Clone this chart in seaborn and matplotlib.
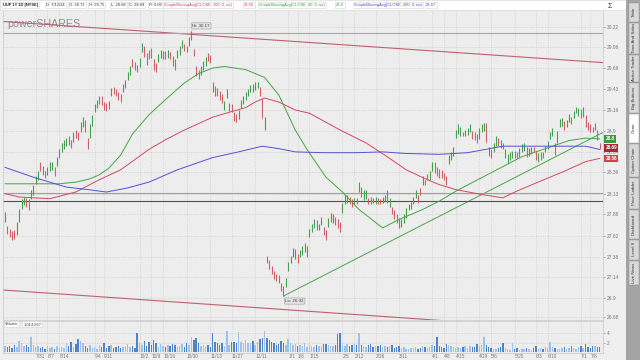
import numpy as np
import pandas as pd
import matplotlib
matplotlib.use("Agg")
import matplotlib.pyplot as plt
from matplotlib.patches import Rectangle
from matplotlib.ticker import NullLocator, NullFormatter
import matplotlib.transforms as mtrans
import seaborn as sns

# ---- values: UUP daily bars 7/12/23 - 7/12/24 ----
holidays = ["2023-09-04", "2023-11-23", "2023-12-25", "2024-01-01", "2024-01-15",
            "2024-02-19", "2024-03-29", "2024-05-27", "2024-06-19", "2024-07-04"]

highs = [
    27.91, 27.74, 27.71, 27.68, 27.70, 27.79, 27.94, 28.06, 28.09, 28.08,
    28.06, 28.18, 28.24, 28.35, 28.40, 28.51, 28.47, 28.41, 28.46, 28.51,
    28.52, 28.46, 28.58, 28.67, 28.75, 28.79, 28.81, 28.83, 28.79, 28.88,
    28.91, 28.89, 29.01, 29.07, 29.04, 28.81, 28.98, 29.10, 29.24, 29.29,
    29.34, 29.33, 29.26, 29.25, 29.27, 29.44, 29.45, 29.43, 29.39, 29.36,
    29.49, 29.54, 29.64, 29.72, 29.80, 29.77, 29.73, 29.82, 30.01, 29.97,
    29.88, 29.92, 29.95, 29.80, 29.76, 29.87, 29.92, 29.91, 29.91, 29.92,
    29.90, 29.85, 29.80, 29.92, 29.97, 30.05, 30.00, 29.97, 30.09, 30.17,
    29.94, 29.72, 29.67, 29.72, 29.78, 29.83, 29.88, 29.86, 29.51, 29.46,
    29.44, 29.40, 29.36, 29.27, 29.43, 29.25, 29.24, 29.14, 29.11, 29.16,
    29.29, 29.34, 29.39, 29.43, 29.48, 29.49, 29.51, 29.51, 29.45, 29.30,
    29.07, 27.39, 27.34, 27.27, 27.21, 27.18, 27.16, 27.07, 27.04, 27.13,
    27.32, 27.39, 27.48, 27.47, 27.41, 27.46, 27.51, 27.54, 27.51, 27.71,
    27.77, 27.82, 27.81, 27.77, 27.85, 27.73, 27.70, 27.84, 27.90, 27.89,
    27.85, 27.83, 27.79, 28.02, 28.11, 28.12, 28.09, 28.06, 28.08, 28.08,
    28.27, 28.21, 28.17, 28.18, 28.08, 28.09, 28.08, 28.09, 28.08, 28.06,
    28.09, 28.12, 28.18, 28.08, 27.97, 27.93, 27.89, 27.84, 27.83, 27.88,
    27.96, 28.01, 28.03, 28.09, 28.18, 28.12, 28.20, 28.34, 28.30, 28.37,
    28.40, 28.52, 28.51, 28.46, 28.43, 28.42, 28.38, 28.35, 28.60, 28.64,
    28.70, 28.91, 28.98, 28.95, 28.89, 28.91, 28.94, 28.98, 28.90, 28.88,
    28.86, 28.93, 28.98, 29.00, 29.00, 28.70, 28.68, 28.75, 28.83, 28.81,
    28.79, 28.75, 28.67, 28.62, 28.64, 28.65, 28.65, 28.64, 28.69, 28.74,
    28.75, 28.70, 28.69, 28.70, 28.70, 28.65, 28.63, 28.64, 28.64, 28.71,
    28.78, 28.89, 28.94, 28.75, 28.90, 29.05, 29.06, 29.02, 29.04, 29.11,
    29.07, 29.15, 29.20, 29.19, 29.17, 29.20, 29.10, 29.01, 28.99, 28.95,
    29.00, 28.91, 28.75,
]
lows = [
    27.79, 27.65, 27.61, 27.58, 27.59, 27.63, 27.79, 27.94, 27.99, 27.97,
    27.93, 28.07, 28.12, 28.25, 28.30, 28.40, 28.36, 28.32, 28.36, 28.40,
    28.42, 28.34, 28.47, 28.57, 28.64, 28.68, 28.71, 28.73, 28.69, 28.76,
    28.81, 28.79, 28.89, 28.95, 28.89, 28.67, 28.81, 28.96, 29.14, 29.19,
    29.24, 29.22, 29.16, 29.15, 29.17, 29.33, 29.36, 29.34, 29.28, 29.26,
    29.39, 29.44, 29.54, 29.60, 29.70, 29.67, 29.64, 29.71, 29.90, 29.83,
    29.73, 29.80, 29.82, 29.67, 29.64, 29.77, 29.82, 29.80, 29.81, 29.82,
    29.80, 29.72, 29.67, 29.82, 29.86, 29.95, 29.91, 29.89, 29.97, 30.05,
    29.84, 29.59, 29.55, 29.60, 29.67, 29.72, 29.78, 29.76, 29.39, 29.34,
    29.33, 29.29, 29.25, 29.16, 29.31, 29.15, 29.14, 29.02, 29.01, 29.05,
    29.19, 29.23, 29.29, 29.33, 29.38, 29.39, 29.41, 29.44, 29.34, 29.06,
    28.91, 27.31, 27.24, 27.18, 27.12, 27.10, 27.07, 26.98, 26.92, 27.03,
    27.21, 27.30, 27.38, 27.35, 27.30, 27.37, 27.40, 27.44, 27.38, 27.61,
    27.67, 27.72, 27.70, 27.70, 27.75, 27.63, 27.58, 27.73, 27.79, 27.78,
    27.75, 27.72, 27.67, 27.90, 28.01, 28.02, 28.00, 27.97, 28.01, 28.00,
    28.15, 28.09, 28.05, 28.07, 28.00, 28.01, 28.02, 28.01, 28.00, 28.00,
    28.02, 28.04, 28.02, 27.97, 27.88, 27.82, 27.78, 27.72, 27.73, 27.78,
    27.84, 27.93, 27.94, 28.00, 28.08, 28.02, 28.11, 28.24, 28.23, 28.29,
    28.30, 28.40, 28.38, 28.35, 28.32, 28.32, 28.29, 28.24, 28.49, 28.54,
    28.59, 28.81, 28.86, 28.83, 28.83, 28.83, 28.85, 28.88, 28.80, 28.79,
    28.75, 28.80, 28.88, 28.90, 28.76, 28.59, 28.57, 28.64, 28.71, 28.71,
    28.69, 28.67, 28.57, 28.50, 28.54, 28.56, 28.57, 28.56, 28.58, 28.64,
    28.65, 28.58, 28.59, 28.62, 28.64, 28.54, 28.52, 28.54, 28.57, 28.64,
    28.68, 28.80, 28.84, 28.60, 28.75, 28.95, 28.96, 28.91, 28.95, 29.01,
    28.98, 29.06, 29.12, 29.09, 29.06, 29.07, 28.95, 28.91, 28.89, 28.88,
    28.91, 28.79, 28.68,
]
# g = up bar, r = down bar
bar_dir = ("grrrrggggr" "rggggrrrgg" "grgggggrrg" "rrggrrgggg" "grrrrgrrrr"
           "ggggrrrggr" "rrrrrgggrg" "rrrgggrrgg" "rrrgggrrrr" "rrrgggrrrg"
           "gggggrggrr" "grrrrrrrrg" "ggggrggggg" "ggrggrrggg" "rrrgggrrgr"
           "grggrrrgrr" "ggrgrrrrgg" "gggggrrgrg" "ggrrrrrrgg" "ggggrgggrr"
           "rgggrrrggr" "rrggggrrgg" "grggrrggrg" "gggrgggrgg" "rgggrgrrrr"
           "grr")
volume_m = [
    1.2, 1.0, 1.3, 0.9, 1.4, 1.1, 2.4, 2.0, 1.2, 1.5,
    1.1, 3.2, 1.4, 1.0, 1.2, 0.8, 1.1, 0.7, 1.3, 0.9,
    1.0, 0.6, 1.2, 0.9, 1.1, 0.8, 2.0, 1.3, 2.2, 1.0,
    1.6, 2.8, 2.4, 1.9, 1.2, 0.9, 1.4, 0.8, 1.1, 0.7,
    1.5, 1.0, 1.8, 0.9, 1.2, 1.4, 0.8, 1.1, 1.3, 0.9,
    1.0, 1.2, 1.6, 1.1, 1.3, 0.9, 3.9, 2.0, 1.5, 2.3,
    1.2, 2.1, 1.4, 2.5, 1.8, 1.1, 1.6, 1.3, 1.0, 1.5,
    1.2, 1.7, 1.4, 1.1, 1.3, 1.6, 1.0, 2.0, 1.4, 3.2,
    2.6, 3.0, 1.8, 1.2, 1.5, 1.0, 1.4, 1.1, 3.9, 2.2,
    1.8, 1.5, 1.9, 1.2, 4.4, 1.4, 2.1, 2.1, 2.0, 4.2,
    2.2, 2.0, 2.5, 2.0, 1.8, 2.4, 1.5, 2.1, 2.8, 3.0,
    4.5, 2.9, 2.5, 2.2, 1.9, 1.4, 1.7, 2.3, 2.0, 1.5,
    2.8, 1.8, 1.4, 1.6, 1.2, 1.5, 1.3, 1.8, 1.1, 1.4,
    1.2, 1.0, 1.5, 1.3, 1.2, 1.6, 1.6, 1.4, 1.2, 1.2,
    1.5, 3.8, 3.9, 1.4, 1.3, 1.7, 1.2, 1.4, 1.6, 1.4,
    3.9, 1.5, 1.3, 1.1, 1.4, 1.6, 1.0, 1.3, 1.2, 1.5,
    1.1, 1.3, 1.0, 1.2, 1.4, 0.9, 1.1, 1.2, 0.8, 1.0,
    0.7, 0.6, 0.9, 0.8, 1.0, 0.7, 0.9, 1.2, 1.1, 0.8,
    1.0, 1.4, 1.2, 3.2, 1.3, 1.0, 0.8, 1.6, 1.4, 1.2,
    1.0, 0.9, 1.1, 0.8, 1.0, 1.2, 0.9, 1.3, 1.1, 1.1,
    1.6, 1.2, 1.4, 3.2, 1.5, 1.1, 0.8, 0.7, 0.6, 0.8,
    1.0, 1.9, 0.9, 0.6, 0.5, 1.8, 0.6, 0.8, 0.5, 0.7,
    0.6, 0.9, 0.7, 0.5, 0.8, 1.3, 0.7, 0.9, 0.6, 1.1,
    0.8, 2.1, 1.0, 0.9, 0.7, 0.6, 0.9, 1.0, 0.7, 0.8,
    1.2, 0.9, 0.7, 1.0, 1.2, 0.8, 1.6, 1.1, 0.9, 1.3,
    1.2, 1.1, 1.01,
]
last_volume = "1,014,867"

# moving averages, read at bar numbers
ma40_day = [0, 23, 30, 36, 40, 44, 49, 54, 61, 68, 76, 82, 88, 93, 102, 110, 116, 123,
            128, 136, 143, 150, 160, 167, 177, 184, 191, 199, 211, 219, 228, 239, 246, 252]
ma40_val = [28.25, 28.25, 28.27, 28.31, 28.36, 28.44, 28.60, 28.86, 29.10, 29.29, 29.50,
            29.62, 29.69, 29.71, 29.67, 29.57, 29.35, 28.91, 28.67, 28.33, 28.15, 27.94,
            27.72, 27.82, 27.94, 28.04, 28.16, 28.28, 28.46, 28.58, 28.67, 28.78, 28.81,
            28.80]
ma100_day = [0, 6, 19, 30, 40, 49, 61, 68, 76, 88, 96, 102, 106, 110, 116, 123, 129, 142,
             153, 162, 170, 179, 184, 191, 202, 211, 216, 225, 236, 246, 252]
ma100_val = [28.13, 28.09, 28.07, 28.15, 28.30, 28.42, 28.67, 28.79, 28.91, 29.07, 29.14,
             29.19, 29.26, 29.31, 29.26, 29.16, 29.12, 28.91, 28.75, 28.58, 28.42, 28.30,
             28.24, 28.18, 28.12, 28.08, 28.15, 28.26, 28.39, 28.52, 28.56]
ma200_day = [0, 12, 26, 35, 43, 52, 61, 73, 88, 99, 109, 116, 123, 135, 149, 160, 170,
             184, 196, 211, 225, 246, 252]
ma200_val = [28.45, 28.33, 28.21, 28.18, 28.15, 28.20, 28.27, 28.42, 28.57, 28.64, 28.71,
             28.68, 28.64, 28.63, 28.63, 28.64, 28.62, 28.61, 28.63, 28.71, 28.71, 28.71,
             28.67]

# drawn studies: channel lines, trend line, horizontal levels
channel_top_day, channel_top_val = [-0.85, 253.4], [30.29, 29.76]
channel_bot_day, channel_bot_val = [-0.85, 253.4], [26.99, 26.51]
trend_day, trend_val = [118, 253.4], [26.92, 28.88]
levels = [30.14, 28.14, 28.04]

price_ticks = [26.68, 26.9, 27.14, 27.38, 27.62, 27.88, 28.13, 28.39, 28.64,
               28.9, 29.16, 29.43, 29.69, 29.96, 30.22]
date_labels = ["7/31", "8/7", "8/14", "9/4", "9/11", "10/2", "10/9", "10/16", "10/30",
               "11/13", "11/27", "12/11", "1/1", "1/8", "1/15", "2/5", "2/12", "2/26",
               "3/11", "4/1", "4/8", "4/15", "4/29", "5/6", "5/20", "6/3", "6/10",
               "7/1", "7/8"]
date_label_years = [2023] * 12 + [2024] * 17

header_items = [("UUP 1Y 1D [NYSE]", "#222222"), ("D: 7/12/24", "#333333"),
                ("O: 28.72", "#333333"), ("H: 28.75", "#333333"), ("L: 28.68", "#333333"),
                ("C: 28.69", "#333333"), ("R: 0.06", "#333333"),
                ("SimpleMovingAvg(CLOSE, 100, 0, no)", "#d23c5a"), ("28.56", "#d23c5a"),
                ("SimpleMovingAvg(CLOSE, 40, 0, no)", "#3a9a3a"), ("28.8", "#3a9a3a"),
                ("SimpleMovingAvg(CLOSE, 200, 0, no)", "#4848c8"), ("28.67", "#4848c8")]
header_x = [2, 45, 68, 88, 110, 128, 148, 163, 243, 258, 335, 353, 425]

tabs = ["Table", "Time And Sales", "Active Trader", "Big Buttons", "Chart",
        "Option Chain", "Price Ladder", "Dashboard", "Level II", "Live News"]
tab_edges = [2, 22, 54, 82, 113, 143, 177, 209, 239, 260, 285]

# ---- build ----
days = pd.bdate_range("2023-07-12", "2024-07-12")
days = days[~days.isin(pd.to_datetime(holidays))]
idx = np.arange(len(days))
label_dates = pd.to_datetime([f"{y}/{d}" for y, d in zip(date_label_years, date_labels)])
label_pos = np.searchsorted(days.values, label_dates.values)

W, H = 640, 360


def frac(x0, y0, x1, y1):
    return [x0 / W, 1 - y1 / H, (x1 - x0) / W, (y1 - y0) / H]


sns.set_theme(style="white")
plt.rcParams["font.family"] = ["Liberation Sans", "DejaVu Sans"]

fig = plt.figure(figsize=(6.4, 3.6), dpi=100, facecolor="#efefef")
ax = fig.add_axes(frac(3, 10, 603, 319.5), facecolor="#ededed")
axv = fig.add_axes(frac(3, 321, 603, 353), facecolor="#ededed")

grid_kw = dict(color="#c4c4c4", lw=0.5, ls=(0, (1, 1.6)))

# price bars
up_col, dn_col = "#46a050", "#d06068"
cols = [up_col if c == "g" else dn_col for c in bar_dir]
ax.vlines(idx, lows, highs, colors=cols, lw=0.8, zorder=3)

# moving averages through seaborn
ma = pd.concat([
    pd.DataFrame({"day": ma100_day, "value": ma100_val, "study": "SMA100"}),
    pd.DataFrame({"day": ma40_day, "value": ma40_val, "study": "SMA40"}),
    pd.DataFrame({"day": ma200_day, "value": ma200_val, "study": "SMA200"}),
])
sns.lineplot(data=ma, x="day", y="value", hue="study", estimator=None, sort=True,
             palette={"SMA100": "#d24a62", "SMA40": "#45a545", "SMA200": "#5252d6"},
             lw=0.7, legend=False, ax=ax, zorder=4)

ax.plot(channel_top_day, channel_top_val, color="#c0606e", lw=0.8, zorder=2)
ax.plot(channel_bot_day, channel_bot_val, color="#c0606e", lw=0.8, zorder=2)
ax.plot(trend_day, trend_val, color="#4aa64a", lw=0.7, zorder=2)
ax.axhline(levels[0], color="#a6a6a6", lw=0.8, zorder=2)
ax.axhline(levels[1], color="#a0a0a0", lw=0.8, zorder=2)
ax.axhline(levels[2], color="#505050", lw=0.8, zorder=2)

ax.set_yscale("log")
ax.set_ylim(26.65, 30.44)
ax.set_xlim(-0.85, 253.4)
ax.set_yticks(price_ticks)
ax.set_yticklabels([f"{v:g}" for v in price_ticks])
ax.yaxis.set_minor_locator(NullLocator())
ax.yaxis.set_minor_formatter(NullFormatter())
ax.yaxis.tick_right()
ax.tick_params(axis="y", labelsize=3.5, colors="#777777", length=1.5, width=0.4, pad=1)
ax.set_xticks(label_pos)
ax.tick_params(axis="x", labelbottom=False, length=0)
ax.grid(True, **grid_kw)
ax.set_xlabel("")
ax.set_ylabel("")
for s in ax.spines.values():
    s.set_color("#c8c8c8")
    s.set_linewidth(0.5)

# hi / lo bubbles
bub = dict(boxstyle="round,pad=0.25", fc="#e2e2e2", ec="#a0a0a0", lw=0.4)
hi_i = int(np.argmax(highs))
lo_i = int(np.argmin(lows))
ax.annotate(f"Hi: {highs[hi_i]:.2f}", xy=(hi_i, highs[hi_i]), xytext=(7, 3.5),
            textcoords="offset points", fontsize=3.2, color="#444", ha="center",
            va="center", bbox=bub, arrowprops=dict(arrowstyle="-", color="#888", lw=0.4),
            zorder=6)
ax.annotate(f"Lo: {lows[lo_i]:.2f}", xy=(lo_i, lows[lo_i]), xytext=(8, -3.6),
            textcoords="offset points", fontsize=3.2, color="#444", ha="center",
            va="center", bbox=bub, arrowprops=dict(arrowstyle="-", color="#888", lw=0.4),
            zorder=6)

# last value tags on the right
tr = mtrans.blended_transform_factory(ax.transAxes, ax.transData)
for val, txt, fc in [(ma40_val[-1], "28.8", "#3c9c3c"), (28.69, "28.69", "#a8283a"),
                     (ma100_val[-1], "28.56", "#d8404e")]:
    ax.text(1.004, val, txt, transform=tr, fontsize=3.3, color="white", ha="left",
            va="center", fontweight="bold", clip_on=False, zorder=7,
            bbox=dict(boxstyle="square,pad=0.3", fc=fc, ec="none"))

ax.text(0.007, 0.955, "powerSHARES", transform=ax.transAxes, fontsize=7.7,
        color="#8e8e8e", ha="left", va="center", zorder=1)

# volume panel
vcols = ["#9dc1ea" if c == "g" else "#4f84c8" for c in bar_dir]
axv.bar(idx, volume_m, width=0.6, color=vcols, linewidth=0, zorder=3)
axv.set_xlim(-0.85, 253.4)
axv.set_ylim(-0.21, 6.53)
axv.set_yticks([2, 4])
axv.set_yticklabels(["2", "4"])
axv.yaxis.tick_right()
axv.tick_params(axis="y", labelsize=3.5, colors="#777777", length=1.5, width=0.4, pad=1)
axv.set_xticks(label_pos)
axv.set_xticklabels(date_labels, ha="left")
axv.tick_params(axis="x", labelsize=3.4, colors="#777777", length=0, pad=0.8)
axv.grid(True, **grid_kw)
for s in axv.spines.values():
    s.set_color("#c8c8c8")
    s.set_linewidth(0.5)
vb = dict(boxstyle="square,pad=0.25", fc="white", ec="#cfcfcf", lw=0.4)
axv.text(0.003, 0.9, "Volume", transform=axv.transAxes, fontsize=3.0, color="#444",
         va="center", bbox=vb, zorder=6)
axv.text(0.034, 0.9, last_volume, transform=axv.transAxes,
         fontsize=3.0, color="#444", va="center", bbox=vb, zorder=6)

# header strip
fig.add_artist(Rectangle((0, 1 - 9.5 / H), 1, 9.5 / H, transform=fig.transFigure,
                         fc="white", ec="#d8d8d8", lw=0.4))
hb = dict(boxstyle="square,pad=0.25", fc="white", ec="#d4d4d4", lw=0.4)
for (txt, col), x in zip(header_items, header_x):
    fig.text((x + 1) / W, 1 - 5 / H, txt, fontsize=2.9, color=col, ha="left", va="center",
             fontweight="bold" if x == 2 else "normal", bbox=hb)
fig.text(610 / W, 1 - 6 / H, "\u03a3", fontsize=5, color="#333", ha="center", va="center")

# side tab strip
fig.add_artist(Rectangle((626 / W, 0), 14 / W, 1, transform=fig.transFigure,
                         fc="#a4a4a4", ec="none"))
for name, y0, y1 in zip(tabs, tab_edges[:-1], tab_edges[1:]):
    fc = "white" if name == "Chart" else "#d9d9d9"
    fig.add_artist(Rectangle((629 / W, 1 - y1 / H), 10 / W, (y1 - y0 - 1) / H,
                             transform=fig.transFigure, fc=fc, ec="#8c8c8c", lw=0.3))
    fig.text(634 / W, 1 - (y0 + y1) / 2 / H, name, rotation=90, fontsize=3.2,
             color="#333333", ha="center", va="center")
fig.add_artist(Rectangle((620 / W, 0), 6 / W, 1 - 285 / H, transform=fig.transFigure,
                         fc="#efefef", ec="none"))

fig.savefig("out.png", dpi=100, facecolor=fig.get_facecolor())
